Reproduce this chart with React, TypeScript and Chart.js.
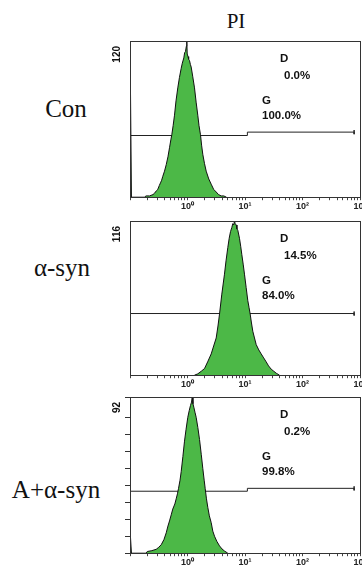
import React, { useEffect, useRef } from 'react';
import { Chart, registerables } from 'chart.js';

Chart.register(...registerables);

// ---------- data ----------
const axisTitle = 'PI';
const panelNames = ['Con', 'α-syn', 'A+α-syn'];
const yMaxCounts = [120, 116, 92];
const xTickValues = [1, 10, 100, 1000];
const xTickLabels = ['10⁰', '10¹', '10²', '10³'];
const xMin = 0.1;
const xMax = 1000;
const dLabel = 'D';
const gLabel = 'G';
const dPercents = ['0.0%', '14.5%', '0.2%'];
const gPercents = ['100.0%', '84.0%', '99.8%'];

// histogram: log10(PI intensity) and event counts
const conExp = [-0.991, -0.975, -0.75, -0.72, -0.66, -0.6, -0.574, -0.54, -0.517, -0.49, -0.47, -0.45, -0.43, -0.4, -0.37, -0.34, -0.313, -0.29, -0.273, -0.25, -0.226, -0.2, -0.169, -0.14, -0.11, -0.09, -0.064, -0.05, -0.035, -0.02, -0.012, -0.005, 0.009, 0.02, 0.035, 0.05, 0.064, 0.09, 0.122, 0.15, 0.179, 0.2, 0.226, 0.245, 0.266, 0.295, 0.325, 0.37, 0.412, 0.455, 0.499, 0.54, 0.586, 0.63, 0.678];
const conCounts = [79, 0, 0, 1, 1, 2, 3, 5, 6, 9, 11, 13, 16, 20, 25, 31, 38, 44, 48, 55, 63, 74, 84, 92, 99, 103, 107, 111, 112, 116, 120, 110, 108, 106, 105, 102, 100, 93, 84, 73, 63, 55, 48, 40, 33, 26, 20, 14, 10, 6, 4, 2, 1, 1, 0];

const synExp = [0.12, 0.179, 0.24, 0.296, 0.35, 0.412, 0.455, 0.499, 0.53, 0.557, 0.597, 0.643, 0.67, 0.701, 0.725, 0.748, 0.77, 0.788, 0.805, 0.817, 0.83, 0.847, 0.86, 0.875, 0.904, 0.925, 0.944, 0.97, 0.991, 1.02, 1.049, 1.07, 1.09, 1.11, 1.136, 1.165, 1.195, 1.24, 1.282, 1.325, 1.369, 1.41, 1.456, 1.5, 1.543, 1.6];
const synCounts = [0, 1, 3, 5, 10, 16, 22, 28, 37, 46, 61, 76, 86, 96, 103, 108, 111, 114, 113, 116, 114, 113, 110, 109, 103, 97, 91, 83, 76, 66, 56, 51, 46, 40, 33, 28, 23, 19, 16, 13, 10, 7, 4.5, 3, 1.5, 0];

const asynExp = [-0.991, -0.975, -0.72, -0.7, -0.62, -0.544, -0.5, -0.457, -0.41, -0.37, -0.34, -0.313, -0.28, -0.256, -0.22, -0.197, -0.175, -0.157, -0.13, -0.11, -0.08, -0.052, -0.025, 0.005, 0.03, 0.052, 0.07, 0.082, 0.095, 0.11, 0.13, 0.151, 0.18, 0.209, 0.24, 0.266, 0.29, 0.308, 0.33, 0.353, 0.38, 0.412, 0.44, 0.47, 0.51, 0.557, 0.6, 0.643, 0.701];
const asynCounts = [9, 0, 0, 1, 1.5, 2.3, 3.5, 5, 8, 12, 16, 19, 23, 26, 29, 32, 35, 38, 43, 48, 57, 66, 73, 80, 84, 87, 89, 92, 88, 86, 83, 80, 74, 67, 58, 50, 43, 38, 32, 27, 22, 18, 13, 10, 7, 4.3, 2.5, 1.3, 0];

// marker gates (x bounds in PI intensity, y level in counts)
const gateStart = 0.1;
const gateBreak = 11;
const gateEnd = 790;
const gGateLevels = [47.4, 46.4, 36.5];
const dGateLevels = [50, 46.4, 38.2];
const gateTickHalf = [1.6, 1.5, 1.2];

const histExps = [conExp, synExp, asynExp];
const histCounts = [conCounts, synCounts, asynCounts];

// ---------- layout / style ----------
const panelTops = [41, 221, 397];
const panelHeights = [157, 155, 157];
const plotLeft = 130;
const canvasWidth = 382;
const padTop = 12;
const xAxisH = 15;
const green = '#4cb847';
const annoFont = 'bold 11.5px "Liberation Sans", Arial, sans-serif';

function makePlugin(idx: number) {
  return {
    id: 'panelDecor' + idx,
    afterDraw(chart: any) {
      const { ctx, chartArea } = chart;
      const { left, top, right, bottom } = chartArea;
      ctx.save();
      ctx.strokeStyle = '#333';
      ctx.lineWidth = 1;
      ctx.strokeRect(Math.round(left) + 0.5, Math.round(top) + 0.5, Math.round(right - left), Math.round(bottom - top));
      ctx.fillStyle = '#111';
      ctx.font = 'bold 10px "Liberation Sans", Arial, sans-serif';
      ctx.translate(left - 12.5, top + 5);
      ctx.rotate(-Math.PI / 2);
      ctx.textAlign = 'right';
      ctx.textBaseline = 'middle';
      ctx.fillText(String(chart.scales.y.max), 0, 0);
      ctx.restore();
      ctx.save();
      ctx.fillStyle = '#111';
      ctx.font = annoFont;
      ctx.textAlign = 'left';
      ctx.textBaseline = 'top';
      ctx.fillText(dLabel, left + 150, top + 12);
      ctx.fillText(dPercents[idx], left + 154, top + 29);
      ctx.fillText(gLabel, left + 132, top + 54);
      ctx.fillText(gPercents[idx], left + 132, top + 69);
      ctx.restore();
    },
  };
}

function Panel({ idx }: { idx: number }) {
  const ref = useRef<HTMLCanvasElement | null>(null);
  const h = padTop + panelHeights[idx] + xAxisH;
  useEffect(() => {
    if (!ref.current) return;
    const hist = histExps[idx].map((e, i) => ({ x: Math.pow(10, e), y: histCounts[idx][i] }));
    const g = gGateLevels[idx];
    const d = dGateLevels[idx];
    const t = gateTickHalf[idx];
    const gGate = [
      { x: gateStart, y: g },
      { x: gateBreak, y: g },
      { x: gateBreak, y: d },
    ];
    const dGate = [
      { x: gateBreak, y: d },
      { x: gateEnd, y: d },
      { x: gateEnd, y: d + t },
      { x: gateEnd, y: d - t },
    ];
    const showYTicks = idx === 2;
    const chart = new Chart(ref.current, {
      type: 'line',
      data: {
        datasets: [
          { data: hist, borderColor: '#111', borderWidth: 1, backgroundColor: green, fill: 'origin', pointRadius: 0, tension: 0 },
          { data: gGate, borderColor: '#222', borderWidth: 1, fill: false, pointRadius: 0, tension: 0 },
          { data: dGate, borderColor: '#222', borderWidth: 1, fill: false, pointRadius: 0, tension: 0 },
        ],
      },
      options: {
        animation: false,
        responsive: false,
        events: [],
        layout: {
          padding: { left: plotLeft - (showYTicks ? 5 : 0), right: 22, top: padTop, bottom: 0 },
        },
        plugins: {
          legend: { display: false },
          tooltip: { enabled: false },
          title: { display: false },
        },
        scales: {
          x: {
            type: 'logarithmic',
            min: xMin,
            max: xMax,
            border: { display: false },
            grid: { drawOnChartArea: false, drawTicks: true, tickLength: 3, color: '#444' },
            afterBuildTicks: (scale: any) => {
              scale.ticks = scale.ticks.filter((tk: any) => {
                const p = Math.pow(10, Math.floor(Math.log10(tk.value) + 1e-9));
                return Math.abs(tk.value / p - 1.5) > 1e-6;
              });
            },
            ticks: {
              autoSkip: false,
              maxRotation: 0,
              minRotation: 0,
              padding: 1,
              color: '#222',
              font: { family: '"Liberation Sans", Arial, sans-serif', size: 9, weight: 'bold' },
              callback: (value: any) => {
                const v = Number(value);
                const i = xTickValues.findIndex((tv) => Math.abs(tv - v) < tv * 1e-6);
                return i >= 0 ? xTickLabels[i] : '';
              },
            },
          },
          y: {
            type: 'linear',
            min: 0,
            max: yMaxCounts[idx],
            border: { display: false },
            grid: { display: showYTicks, drawOnChartArea: false, drawTicks: showYTicks, tickLength: 5, color: '#333' },
            ticks: { display: false, stepSize: 10 },
          },
        },
      },
      plugins: [makePlugin(idx)],
    } as any);
    return () => chart.destroy();
  }, [idx]);
  return (
    <div style={{ position: 'absolute', left: 0, top: panelTops[idx] - padTop, width: canvasWidth, height: h }}>
      <canvas ref={ref} width={canvasWidth} height={h} style={{ display: 'block', width: canvasWidth, height: h }} />
    </div>
  );
}

const serif = '"Liberation Serif", "DejaVu Serif", "Times New Roman", Times, serif';
const labelCenters = [
  [66, 108],
  [62, 267],
  [56, 489],
];

export default function App() {
  return (
    <div style={{ position: 'fixed', left: 0, top: 0, width: 362, height: 569, overflow: 'hidden', background: '#fff' }}>
      <div
        style={{
          position: 'absolute',
          left: 236,
          top: 21,
          transform: 'translate(-50%, -50%)',
          fontFamily: serif,
          fontSize: 21,
          lineHeight: 1,
          color: '#111',
          whiteSpace: 'nowrap',
        }}
      >
        {axisTitle}
      </div>
      {panelNames.map((name, i) => (
        <div
          key={name}
          style={{
            position: 'absolute',
            left: labelCenters[i][0],
            top: labelCenters[i][1],
            transform: 'translate(-50%, -50%)',
            fontFamily: serif,
            fontSize: 25,
            lineHeight: 1,
            color: '#111',
            whiteSpace: 'nowrap',
          }}
        >
          {name}
        </div>
      ))}
      {[0, 1, 2].map((i) => (
        <Panel key={i} idx={i} />
      ))}
    </div>
  );
}
